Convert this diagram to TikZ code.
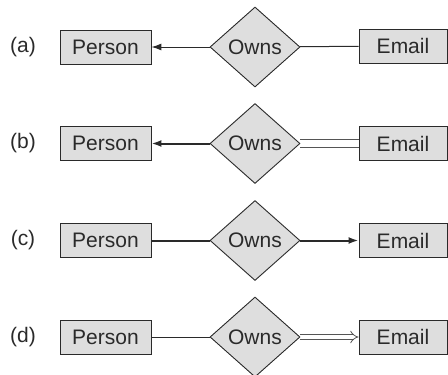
\documentclass[tikz,border=0pt]{standalone}
\usepackage{fontspec}
\setmainfont{Liberation Sans}
\usetikzlibrary{shapes.geometric,arrows.meta}
\pgfdeclarelayer{bg}
\pgfsetlayers{bg,main}
\definecolor{boxfill}{HTML}{DEDEDE}
\definecolor{ink}{HTML}{2A2A2A}
\begin{document}
\begin{tikzpicture}[x=1pt,y=-1pt,
  every node/.style={font=\fontsize{21}{24}\selectfont, text=ink},
  entity/.style={draw=ink, fill=boxfill, line width=0.9pt, minimum height=34pt, inner sep=0},
  rel/.style={diamond, draw=ink, fill=boxfill, line width=0.9pt,
              minimum width=90pt, minimum height=80pt, inner sep=0},
  tag/.style={anchor=center},
  thinline/.style={draw=ink, line width=1pt},
  thickline/.style={draw=ink, line width=2pt},
  twoline/.style={draw=ink!80, line width=0.9pt, double=white, double distance=#1},
  tip/.style={-{Latex[length=10pt,width=7pt]}},
]
\useasboundingbox (0,0) rectangle (448,375);

% row (a)
\node[tag] (la) at (23,47) {(a)};
\node[entity, minimum width=91pt] (pa) at (105.5,47) {Person};
\node[rel] (ra) at (255,47) {Owns};
\node[entity, minimum width=88pt] (ea) at (403,46) {Email};

% row (b)
\node[tag] (lb) at (23,143.5) {(b)};
\node[entity, minimum width=91pt] (pb) at (105.5,143.5) {Person};
\node[rel] (rb) at (255,143.5) {Owns};
\node[entity, minimum width=88pt] (eb) at (403,143.5) {Email};

% row (c)
\node[tag] (lc) at (23,240.5) {(c)};
\node[entity, minimum width=91pt] (pc) at (105.5,240.5) {Person};
\node[rel] (rc) at (255,240.5) {Owns};
\node[entity, minimum width=88pt] (ec) at (403,240.5) {Email};

% row (d)
\node[tag] (ld) at (23,337) {(d)};
\node[entity, minimum width=91pt] (pd) at (105.5,337) {Person};
\node[rel] (rd) at (255,337) {Owns};
\node[entity, minimum width=88pt] (ed) at (403,337) {Email};

\begin{pgfonlayer}{bg}
  % (a) many-to-one: arrow towards Person
  \draw[thinline, tip] (ra) -- (pa);
  \draw[thinline] (ra) -- (ea);
  % (b) total participation of Email, bold arrow to Person
  \draw[thickline, tip] (rb) -- (pb);
  \draw[twoline=7pt] (rb) -- (eb);
  % (c) bold lines, arrow towards Email
  \draw[thickline] (pc) -- (rc);
  \draw[thickline, tip] (rc) -- (ec);
  % (d) double arrow towards Email
  \draw[thinline] (pd) -- (rd);
  \draw[twoline=3.6pt, line width=0.8pt, -{Implies}] (rd) -- (ed);
\end{pgfonlayer}
\end{tikzpicture}
\end{document}
